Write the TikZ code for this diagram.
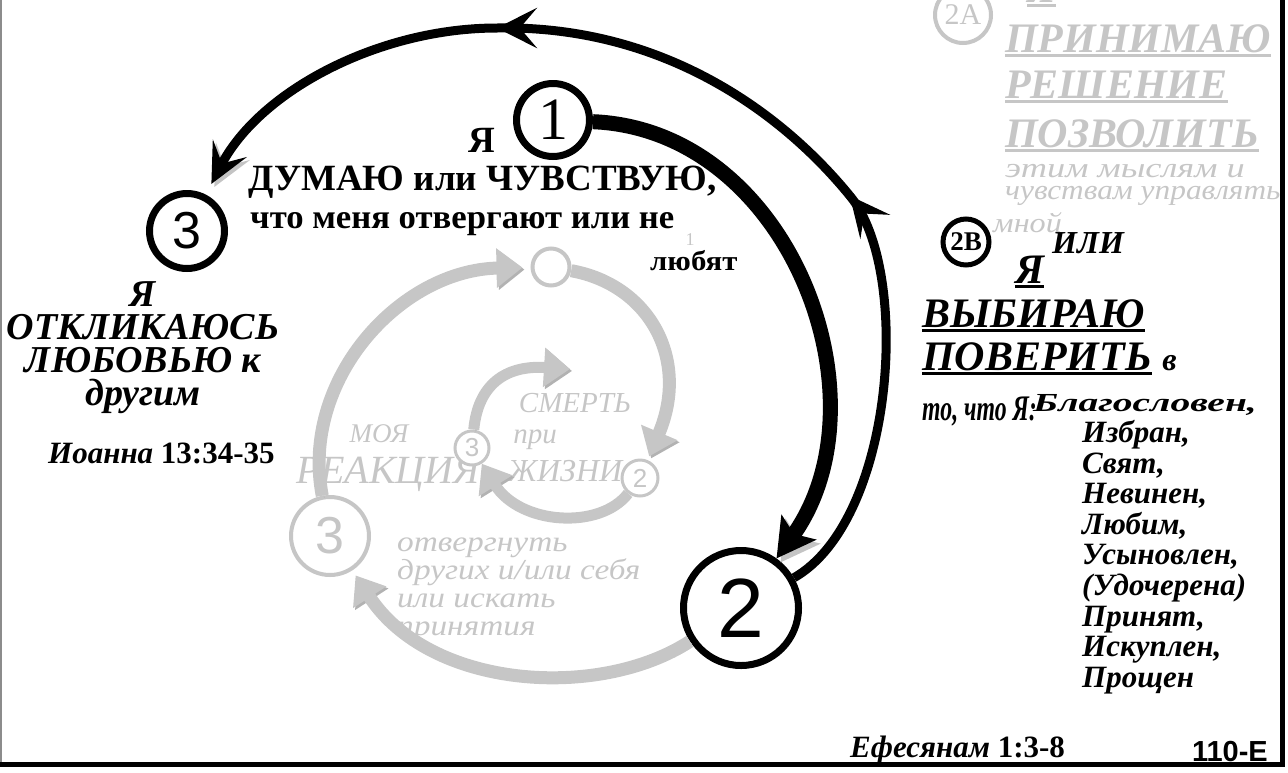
\documentclass[tikz,border=0pt]{standalone}
\usepackage{fontspec}
\setmainfont{Liberation Serif}
\newfontfamily\numfont{Liberation Sans}
\usepackage{graphicx}
\usetikzlibrary{arrows.meta, decorations.markings}
\newcommand{\fsz}[1]{\fontsize{#1}{#1}\selectfont}
\newcommand{\heavyline}[1]{\setbox0\hbox{#1}\rlap{\rule[-5pt]{\wd0}{3pt}}\box0\relax}
\newcommand{\widen}[2]{\scalebox{#1}[1]{#2}}
\definecolor{ghost}{HTML}{C6C6C6}
\definecolor{ghostshade}{HTML}{B2B2B2}
\definecolor{shade}{HTML}{C4C4C4}
\tikzset{
  ring/.style={
    circle,
    draw,
    fill=white,
    line width=7pt,
    inner sep=0pt
  },
  ghostring/.style={
    circle,
    draw=ghost,
    fill=white,
    text=ghost,
    line width=4pt,
    inner sep=0pt
  },
  heading/.style={inner sep=0pt, font=\bfseries\itshape\fsz{42}},
  ghosttext/.style={inner sep=0pt, text=ghost},
  arrow/.style={
    line width=9pt,
    -{Stealth[length=40pt,width=38pt,inset=17pt]},
    preaction={draw=shade, transform canvas={shift={(3,3)}}}
  },
  heavyarrow/.style={
    line width=15pt,
    -{Stealth[length=38pt,width=42pt,inset=8pt]},
    preaction={draw=shade, transform canvas={shift={(4,4)}}}
  },
  ghostarrow/.style={
    draw=ghost,
    line width=13pt,
    -{Triangle[length=26pt,width=38pt]},
    preaction={draw=ghostshade, transform canvas={shift={(2,2)}}}
  }
}
\begin{document}
\begin{tikzpicture}[x=1pt, y=-1pt]
  \useasboundingbox (0,0) rectangle (1288,772);
  % frame
  \draw[line width=2pt, black!45] (1,0) -- (1,764);
  \draw[line width=5pt] (0,764) -- (1282,764) -- (1282,0);

  % faded inner cycle
  \node[ghosttext, font=\itshape\fsz{27}] (my) at (379,434) {МОЯ};
  \node[ghosttext, font=\itshape\fsz{40}] (reaction) at (388,474) {РЕАКЦИЯ};
  \node[ghosttext, font=\itshape\fsz{29}] (death) at (575,403) {СМЕРТЬ};
  \node[ghosttext, font=\itshape\fsz{29}] (during) at (535,440) {при};
  \node[ghosttext, font=\itshape\fsz{32}] (life) at (565,471) {ЖИЗНИ};
  \node[ghosttext, font=\itshape\fontsize{29}{28}\selectfont, align=left, anchor=north west] (reject) at (397,538)
    {\widen{1.15}{отвергнуть}\\\widen{1.15}{других и/или себя}\\\widen{1.15}{или искать}\\\widen{1.15}{принятия}};

  \node[ghostring, minimum size=78pt, font=\numfont\fsz{52}] (g3) at (330,536) {3};
  \node[ghostring, minimum size=37pt] (gtop) at (551,267) {};
  \node[ghostring, minimum size=34pt, line width=3pt, font=\numfont\fsz{26}] (g3s) at (472,448) {3};
  \node[ghostring, minimum size=36pt, line width=3pt, font=\numfont\fsz{26}] (g2s) at (640,478) {2};
  \coordinate (deathtip) at (570,369);

  % faded choice 2A
  \node[ghostring, minimum size=56pt, font=\fsz{30}] (twoA) at (963,15) {2A};
  \node[ghosttext, font=\bfseries\itshape\fsz{42}, anchor=base west] (ghostme) at (1027,2) {\heavyline{Я}};
  \node[ghosttext, font=\bfseries\itshape\fsz{42}, anchor=base west] (accept) at (1005,52) {\heavyline{ПРИНИМАЮ}};
  \node[ghosttext, font=\bfseries\itshape\fsz{42}, anchor=base west] (decision) at (1005,98) {\heavyline{РЕШЕНИЕ}};
  \node[ghosttext, font=\bfseries\itshape\fsz{42}, anchor=base west] (allow) at (1005,147) {\heavyline{ПОЗВОЛИТЬ}};
  \node[ghosttext, font=\itshape\fsz{28}, anchor=base west] (thoughts) at (1005,177) {\widen{1.3}{этим мыслям и}};
  \node[ghosttext, font=\itshape\fsz{28}, anchor=base west] (feelings) at (1005,199) {\widen{1.12}{чувствам управлять}};
  \node[ghosttext, font=\itshape\fsz{28}, anchor=base west] (rule) at (993,232) {\widen{1.15}{мной}};

  % black cycle
  \node[ring, minimum size=73pt, font=\fsz{60}] (c1) at (553,120) {1};
  \node[ring, minimum size=115pt, font=\numfont\fsz{84}] (c2) at (741,608) {2};
  \node[ring, minimum size=75pt, font=\numfont\fsz{52}] (c3) at (187,231) {3};
  \node[ring, minimum size=46pt, line width=5pt, font=\bfseries\fsz{27}] (twoB) at (966,242) {2B};
  \coordinate (turn) at (850,196);
  \coordinate (crest) at (497,28);

  \draw[ghostarrow, shorten >=8pt] (g3) .. controls (300,380) and (400,270) .. (gtop);
  \draw[ghostarrow, shorten >=4pt] (gtop) .. controls (650,285) and (690,360) .. (g2s);
  \draw[ghostarrow, shorten >=6pt] (c2) .. controls (600,700) and (430,690) .. (g3);
  \draw[ghostarrow, line width=11pt] (g2s) .. controls (600,530) and (520,525) .. (g3s);
  \draw[ghostarrow, line width=11pt] (g3s) .. controls (478,385) and (505,365) .. (deathtip);

  \draw[heavyarrow] (c1) .. controls (790,130) and (890,400) .. (c2);
  \draw[arrow, shorten >=12pt, postaction={decorate}, decoration={markings,
      mark=at position 0.355 with {\arrow{Stealth[length=40pt,width=38pt,inset=17pt]}},
      mark=at position 0.70 with {\arrow{Stealth[length=40pt,width=40pt,inset=17pt]}}}]
    (c2) .. controls (895,520) and (912,270) .. (turn)
         .. controls (780,110) and (660,25) .. (crest)
         .. controls (380,28) and (260,90) .. (c3);

  % step 1
  \node[inner sep=0pt, font=\bfseries\fsz{37}, anchor=base] (me) at (482,152) {Я};
  \node[inner sep=0pt, font=\bfseries\fsz{37}, anchor=base west] (think) at (248,190) {ДУМАЮ или ЧУВСТВУЮ,};
  \node[inner sep=0pt, font=\bfseries\fsz{34}, anchor=base west] (rejected) at (250,228) {\widen{1.02}{что меня отвергают или не}};
  \node[ghosttext, font=\fsz{18}] (one) at (690,240) {1};
  \node[inner sep=0pt, font=\bfseries\fsz{28}, anchor=base west] (loved) at (650,270) {\widen{1.1}{любят}};

  % step 3
  \node[heading, font=\bfseries\itshape\fontsize{38}{33}\selectfont, align=center, anchor=north] (love) at (143,281)
    {Я\\ОТКЛИКАЮСЬ\\ЛЮБОВЬЮ к\\другим};
  \node[inner sep=0pt, font=\bfseries\fsz{31}, anchor=base west] (john) at (48,463) {\itshape Иоанна \upshape 13:34-35};

  % step 2B
  \node[heading, font=\bfseries\itshape\fsz{32}, anchor=base west] (or) at (1052,253) {ИЛИ};
  \node[heading, anchor=base west] (i) at (1015,283) {\heavyline{Я}};
  \node[heading, anchor=base west] (choose) at (922,327) {\heavyline{ВЫБИРАЮ}};
  \node[heading, anchor=base west] (believe) at (922,370) {\heavyline{ПОВЕРИТЬ} {\fsz{32}в}};
  \node[heading, font=\bfseries\itshape\fsz{36}, anchor=base west] (that) at (922,420) {\widen{0.66}{то, что Я:}};
  \node[heading, font=\bfseries\itshape\fsz{26}, anchor=base west] (blessed) at (1033,411) {\widen{1.52}{Благословен,}};
  \node[heading, font=\bfseries\itshape\fontsize{31}{30.6}\selectfont, align=left, anchor=north west] (list) at (1082,420)
    {Избран,\\Свят,\\Невинен,\\Любим,\\Усыновлен,\\(Удочерена)\\Принят,\\Искуплен,\\Прощен};
  \node[inner sep=0pt, font=\bfseries\fsz{31}, anchor=base west] (eph) at (850,757) {\itshape Ефесянам \upshape 1:3-8};
  \node[inner sep=0pt, font=\numfont\bfseries\fsz{29}, anchor=base east] (code) at (1268,761) {110-E};
\end{tikzpicture}
\end{document}
